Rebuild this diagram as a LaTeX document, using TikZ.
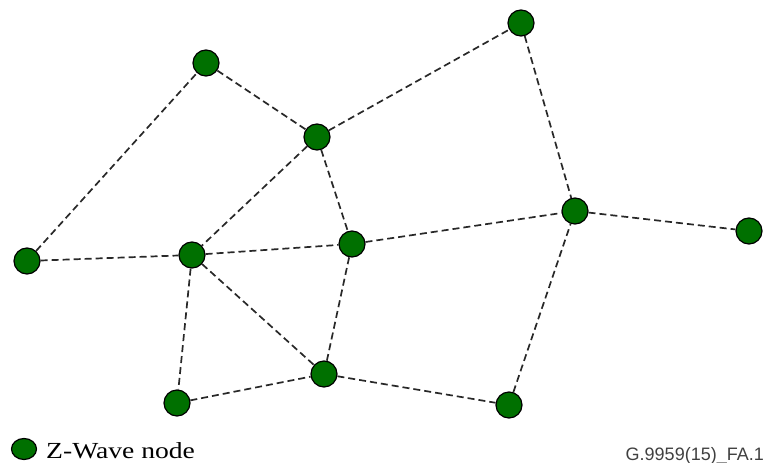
\documentclass[tikz,border=0pt]{standalone}
\usepackage{fontspec}
\setmainfont{Liberation Serif}
\newfontfamily\figfont{Liberation Sans}
\usetikzlibrary{shapes.geometric}
\definecolor{zgreen}{RGB}{0,112,0}
\definecolor{linkgray}{RGB}{40,40,40}
\tikzset{
    znode/.style={circle, draw=black, line width=1.2pt, fill=zgreen, minimum size=26pt, inner sep=0pt},
    link/.style={draw=linkgray, line width=1.7pt, dash pattern=on 7pt off 4pt}
}

\begin{document}
\begin{tikzpicture}[x=1pt, y=-1pt]
\useasboundingbox (0,0) rectangle (766,463);

%%% noeuds
\node[znode] (a) at (206,63) {};
\node[znode] (b) at (521,23) {};
\node[znode] (c) at (317,137) {};
\node[znode] (d) at (575,211) {};
\node[znode] (e) at (749,231) {};
\node[znode] (f) at (27,261) {};
\node[znode] (g) at (192,255) {};
\node[znode] (h) at (352,244) {};
\node[znode] (i) at (324,374) {};
\node[znode] (j) at (177,403) {};
\node[znode] (k) at (509,405) {};

%%% liens
\draw[link] (f) -- (a);
\draw[link] (a) -- (c);
\draw[link] (c) -- (b);
\draw[link] (b) -- (d);
\draw[link] (d) -- (e);
\draw[link] (c) -- (g);
\draw[link] (c) -- (h);
\draw[link] (f) -- (g);
\draw[link] (g) -- (h);
\draw[link] (h) -- (d);
\draw[link] (g) -- (j);
\draw[link] (g) -- (i);
\draw[link] (h) -- (i);
\draw[link] (j) -- (i);
\draw[link] (i) -- (k);
\draw[link] (k) -- (d);

%%% legende
\node[znode, ellipse, minimum width=25pt, minimum height=21pt] (legend) at (24,449) {};
\node[anchor=base west, inner sep=0pt] (legendtext) at (46,458)
    {\scalebox{1.2}[1]{\fontsize{23}{27}\selectfont Z-Wave node}};
\node[anchor=base east, inner sep=0pt] (figref) at (764,460)
    {\figfont\fontsize{18}{21}\selectfont\color{black!75} G.9959(15)\_FA.1};
\end{tikzpicture}
\end{document}
